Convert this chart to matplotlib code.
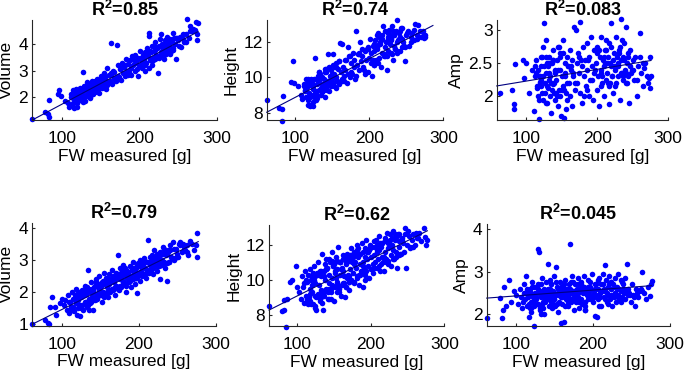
import matplotlib
matplotlib.use('Agg')
import matplotlib.pyplot as plt

plt.rcParams['font.family'] = ['Liberation Sans', 'DejaVu Sans']
plt.rcParams['mathtext.fontset'] = 'custom'
plt.rcParams['mathtext.rm'] = 'Liberation Sans'
plt.rcParams['mathtext.bf'] = 'Liberation Sans:bold'

# ---------------- data: top row (FW measured vs traits) ----------------
fw_top = [
    62, 79, 82, 83, 84, 95, 97, 99, 104, 108,
    110, 112, 113, 115, 116, 117, 118, 119, 120, 121,
    122, 123, 124, 125, 126, 127, 128, 129, 130, 131,
    132, 133, 134, 135, 136, 137, 138, 139, 140, 141,
    142, 143, 144, 145, 146, 147, 148, 149, 150, 151,
    152, 153, 154, 155, 156, 157, 158, 159, 160, 161,
    162, 163, 164, 165, 166, 167, 168, 170, 171, 172,
    173, 174, 175, 176, 178, 179, 180, 181, 183, 184,
    185, 186, 188, 189, 190, 191, 192, 194, 195, 196,
    198, 199, 200, 201, 203, 204, 205, 206, 207, 208,
    209, 210, 211, 212, 213, 214, 215, 216, 217, 218,
    219, 220, 221, 222, 223, 224, 225, 226, 227, 228,
    229, 230, 231, 232, 233, 234, 235, 236, 237, 238,
    239, 240, 241, 242, 243, 244, 245, 246, 248, 250,
    252, 254, 256, 258, 260, 262, 264, 266, 268, 270,
    272, 273, 274, 275, 276, 114, 118, 125, 128, 132,
    115, 120, 124, 130, 135, 140, 145, 150, 155, 137,
    205, 210, 215, 220, 225, 230, 235, 240, 212, 228,
    112, 117, 122, 127, 132, 137, 142, 147, 152, 157,
    119, 126, 133, 139, 146, 153, 159, 166, 174, 182,
    187, 193, 197, 202, 206, 211, 216, 221, 226, 231,
    234, 238, 242, 247, 251, 256, 261, 265, 118, 143,
    121, 129, 136, 141, 148, 156, 163, 169, 177, 186,
    199, 207, 214, 218, 224, 232, 237, 244, 249, 129,
]
volume_top = [
    1.15, 1.42, 1.35, 1.22, 1.88, 2.1, 2.26, 2.05, 1.83, 1.78,
    1.62, 2.0, 1.7, 1.95, 1.56, 2.15, 1.85, 2.3, 1.75, 2.05,
    2.2, 1.9, 2.35, 1.98, 2.1, 2.95, 1.8, 2.25, 2.02, 2.4,
    2.05, 2.3, 2.5, 2.15, 1.95, 2.42, 2.28, 2.6, 2.1, 2.35,
    2.55, 2.2, 2.45, 2.7, 2.3, 2.62, 2.15, 2.5, 2.4, 2.78,
    2.35, 2.65, 2.9, 2.48, 2.75, 2.3, 2.6, 3.1, 2.55, 2.82,
    2.62, 4.04, 2.85, 2.5, 3.0, 2.72, 2.95, 2.6, 3.98, 2.8,
    3.2, 2.75, 3.05, 2.65, 3.3, 2.9, 3.15, 2.8, 3.45, 3.0,
    3.25, 2.9, 3.4, 3.1, 2.85, 3.55, 3.2, 3.0, 3.6, 3.3,
    2.8, 3.5, 3.2, 3.75, 3.35, 3.1, 3.6, 3.45, 3.0, 3.7,
    3.3, 3.85, 3.55, 4.43, 4.33, 3.4, 3.7, 3.2, 3.95, 3.5,
    3.75, 3.45, 4.1, 3.6, 3.85, 2.93, 3.95, 3.55, 4.2, 3.7,
    3.6, 4.0, 3.85, 3.45, 4.15, 3.9, 3.7, 4.3, 3.8, 4.05,
    3.95, 4.2, 3.75, 4.1, 4.45, 3.85, 4.25, 4.0, 3.44, 4.15,
    4.3, 3.9, 4.2, 4.1, 4.4, 4.96, 4.25, 4.7, 4.5, 4.6,
    4.55, 4.85, 4.15, 4.4, 4.8, 1.75, 2.1, 1.9, 2.3, 2.55,
    2.25, 1.6, 2.05, 1.85, 2.2, 2.5, 2.3, 2.65, 2.45, 2.0,
    3.25, 3.65, 3.4, 3.9, 3.5, 3.75, 4.1, 3.65, 3.1, 4.4,
    2.1, 1.8, 2.25, 2.0, 2.4, 2.15, 2.55, 2.3, 2.7, 2.45,
    1.95, 2.3, 2.1, 2.5, 2.25, 2.75, 2.45, 2.95, 2.7, 3.2,
    2.95, 3.4, 3.05, 3.5, 3.25, 3.7, 3.35, 3.8, 3.55, 3.95,
    3.65, 4.1, 3.8, 4.25, 3.95, 4.4, 4.1, 4.5, 1.8, 2.6,
    2.2, 2.0, 2.45, 2.2, 2.6, 2.4, 2.9, 2.65, 3.1, 2.85,
    3.45, 3.2, 3.75, 3.4, 3.9, 3.6, 4.05, 3.8, 4.25, 2.4,
]
height_top = [
    8.7, 8.25, 8.2, 7.5, 8.95, 9.75, 10.95, 9.7, 9.5, 9.0,
    8.75, 9.6, 9.2, 8.9, 9.45, 8.45, 9.8, 9.1, 8.4, 9.55,
    9.0, 9.7, 8.6, 9.35, 9.9, 11.08, 9.2, 8.7, 9.6, 10.1,
    9.3, 9.85, 10.2, 9.0, 9.6, 10.0, 9.45, 9.9, 8.9, 9.7,
    10.3, 9.5, 9.8, 11.3, 9.2, 10.1, 9.6, 10.4, 9.9, 11.35,
    9.7, 10.2, 10.6, 9.4, 10.0, 9.8, 10.5, 10.9, 9.6, 11.93,
    10.3, 11.9, 9.9, 10.6, 10.1, 11.0, 10.4, 9.7, 11.7, 10.2,
    11.2, 10.0, 10.8, 10.3, 11.4, 10.6, 11.0, 9.9, 12.6, 10.7,
    11.3, 10.4, 12.0, 10.9, 11.6, 11.2, 10.6, 11.5, 10.2, 11.0,
    10.3, 11.7, 11.1, 12.2, 11.4, 10.05, 11.8, 11.5, 10.7, 12.1,
    11.0, 12.4, 11.6, 12.5, 12.3, 11.1, 11.9, 10.6, 12.2, 11.4,
    12.9, 11.2, 12.6, 11.7, 12.0, 10.4, 12.3, 11.5, 12.7, 11.9,
    11.4, 12.2, 12.9, 11.0, 12.4, 11.8, 11.6, 12.6, 13.25, 12.0,
    12.1, 12.5, 11.5, 12.3, 12.8, 11.7, 12.2, 12.0, 10.9, 12.4,
    12.6, 11.8, 12.3, 12.5, 12.1, 13.0, 12.4, 12.95, 12.6, 12.3,
    12.35, 12.6, 12.25, 12.4, 12.3, 9.3, 9.6, 8.4, 9.0, 10.3,
    9.9, 8.45, 9.5, 8.8, 9.4, 10.5, 9.8, 10.2, 10.8, 9.15,
    11.0, 11.7, 12.0, 11.3, 12.5, 12.1, 11.6, 12.2, 10.8, 12.4,
    9.5, 8.7, 9.9, 9.1, 10.3, 9.4, 10.5, 9.6, 10.7, 9.8,
    9.8, 8.9, 10.1, 9.3, 10.6, 9.5, 10.9, 9.8, 11.2, 10.1,
    11.4, 10.4, 11.6, 10.8, 11.9, 11.0, 12.1, 11.2, 12.2, 11.3,
    12.4, 11.5, 12.6, 11.8, 12.5, 12.0, 12.7, 12.2, 9.9, 9.3,
    8.9, 9.9, 9.2, 10.3, 9.5, 10.6, 9.8, 11.0, 10.2, 11.3,
    11.6, 10.7, 11.9, 12.4, 11.2, 12.6, 11.4, 12.8, 11.7, 9.1,
]
amp_top = [
    2.05, 2.1, 1.88, 1.8, 2.48, 2.55, 2.28, 2.5, 2.05, 2.4,
    1.78, 2.3, 2.55, 2.12, 2.0, 2.4, 1.65, 2.22, 2.6, 2.15,
    2.05, 2.75, 1.95, 3.1, 2.2, 2.85, 2.35, 1.9, 2.45, 2.12,
    2.6, 2.0, 2.3, 1.75, 2.5, 2.18, 2.7, 2.05, 2.38, 1.95,
    2.25, 2.55, 1.85, 2.4, 2.1, 2.65, 2.0, 1.7, 2.3, 2.85,
    2.15, 1.67, 2.5, 2.35, 2.05, 2.6, 1.95, 2.45, 2.2, 2.7,
    2.0, 2.4, 2.55, 1.85, 2.3, 3.05, 2.1, 3.0, 2.5, 2.2,
    2.65, 2.35, 3.12, 2.05, 2.45, 1.9, 2.75, 2.3, 2.55, 2.15,
    2.8, 2.4, 2.0, 2.6, 2.25, 2.9, 2.45, 1.95, 2.7, 2.35,
    2.5, 2.1, 2.75, 2.3, 1.85, 2.6, 2.4, 2.9, 2.2, 2.55,
    2.0, 2.45, 2.7, 2.25, 2.85, 2.35, 2.6, 2.15, 1.88, 2.5,
    2.75, 3.1, 2.3, 2.55, 2.05, 2.65, 2.4, 2.9, 2.2, 2.6,
    2.45, 2.3, 2.7, 1.95, 2.55, 3.17, 2.35, 2.6, 2.25, 2.8,
    2.4, 3.05, 2.2, 2.5, 2.3, 2.65, 1.9, 2.45, 2.35, 2.55,
    2.25, 2.6, 2.0, 2.45, 2.95, 2.35, 2.15, 2.43, 2.5, 2.3,
    2.2, 2.28, 2.12, 2.6, 2.3, 2.35, 1.95, 2.45, 2.6, 2.25,
    2.15, 2.45, 2.3, 2.5, 2.2, 2.4, 2.75, 2.1, 2.3, 2.55,
    2.35, 2.6, 2.2, 2.45, 2.15, 2.5, 2.85, 2.35, 2.7, 2.45,
    2.45, 2.15, 2.6, 1.9, 2.35, 2.55, 2.05, 2.4, 2.65, 2.2,
    2.3, 2.05, 2.5, 2.2, 2.75, 2.1, 2.45, 2.35, 2.6, 2.0,
    2.55, 2.25, 2.4, 2.7, 2.15, 2.5, 2.8, 2.3, 2.45, 2.65,
    2.35, 2.55, 2.2, 2.7, 2.4, 2.25, 2.6, 2.5, 2.3, 2.0,
    2.25, 2.5, 2.1, 2.35, 2.6, 1.8, 2.45, 2.2, 2.55, 2.1,
    2.65, 2.3, 2.5, 2.2, 2.45, 2.75, 2.3, 2.6, 2.4, 2.15,
]

# ---------------- data: bottom row ----------------
fw_bot = [
    62, 79, 82, 83, 85, 87, 91, 93, 98, 100,
    103, 105, 107, 108, 110, 111, 112, 113, 114, 115,
    116, 117, 118, 119, 120, 121, 122, 123, 124, 125,
    126, 127, 128, 129, 130, 131, 132, 133, 134, 135,
    136, 137, 138, 139, 140, 141, 142, 143, 144, 145,
    146, 147, 148, 149, 150, 151, 152, 153, 154, 155,
    156, 157, 158, 159, 160, 161, 162, 163, 164, 165,
    166, 167, 168, 169, 170, 171, 172, 173, 174, 175,
    176, 177, 178, 179, 180, 181, 182, 183, 184, 185,
    186, 187, 188, 189, 190, 191, 192, 193, 194, 195,
    196, 197, 198, 199, 200, 201, 202, 203, 204, 205,
    206, 207, 208, 209, 210, 211, 212, 213, 214, 215,
    216, 217, 218, 219, 220, 221, 222, 223, 224, 225,
    226, 227, 228, 229, 230, 231, 232, 233, 234, 235,
    236, 237, 238, 239, 240, 242, 244, 246, 248, 250,
    252, 254, 256, 258, 260, 263, 266, 269, 272, 276,
    275, 274, 120, 125, 130, 135, 140, 145, 150, 155,
    118, 123, 128, 133, 138, 143, 148, 153, 158, 163,
    160, 165, 170, 175, 180, 185, 190, 195, 132, 147,
    168, 172, 178, 182, 188, 193, 198, 203, 208, 213,
    218, 223, 228, 233, 238, 243, 122, 137, 142, 152,
    109, 114, 119, 124, 129, 134, 139, 144, 149, 154,
    159, 164, 169, 174, 179, 184, 189, 194, 199, 204,
    209, 214, 219, 224, 229, 234, 239, 245, 251, 257,
    112, 117, 121, 126, 131, 136, 141, 146, 151, 156,
    161, 166, 171, 176, 181, 186, 191, 196, 201, 206,
    211, 216, 221, 226, 231, 236, 241, 247, 253, 262,
    127, 134, 139, 144, 149, 157, 162, 167, 173, 177,
    115, 124, 131, 138, 146, 154, 171, 183, 192, 264,
]
volume_bot = [
    1.0, 1.13, 1.05, 1.0, 1.54, 1.86, 1.55, 1.3, 1.65, 1.8,
    1.6, 1.75, 1.45, 1.9, 1.35, 1.7, 1.55, 2.0, 1.5, 1.8,
    1.4, 1.9, 1.65, 2.1, 1.3, 1.75, 1.55, 2.0, 1.25, 1.85,
    1.6, 2.05, 1.45, 1.9, 2.2, 1.7, 1.95, 1.55, 2.69, 1.8,
    2.1, 1.65, 2.3, 1.85, 2.0, 1.45, 2.15, 1.75, 2.4, 1.95,
    1.8, 2.25, 2.05, 2.5, 1.9, 2.2, 1.7, 2.35, 2.0, 2.6,
    2.3, 1.95, 2.45, 2.15, 1.85, 2.55, 2.25, 2.0, 2.4, 2.7,
    2.1, 2.5, 2.3, 1.9, 2.6, 2.2, 2.45, 3.16, 2.05, 2.75,
    2.4, 2.15, 2.65, 2.35, 2.85, 2.25, 2.55, 2.0, 2.7, 2.45,
    2.6, 2.3, 2.8, 2.5, 2.15, 2.7, 2.4, 2.95, 2.55, 2.25,
    2.75, 2.45, 1.97, 2.9, 2.6, 2.35, 3.0, 2.65, 2.5, 2.8,
    2.55, 3.05, 2.75, 2.45, 2.95, 2.7, 3.62, 2.6, 3.1, 2.85,
    2.7, 3.15, 2.9, 2.55, 3.3, 2.8, 3.05, 2.65, 3.2, 2.95,
    3.1, 2.4, 3.25, 2.85, 3.0, 3.4, 2.9, 3.35, 2.75, 3.15,
    3.2, 2.33, 3.3, 2.95, 3.45, 3.1, 3.55, 3.0, 3.35, 3.2,
    3.5, 3.55, 3.25, 3.4, 3.3, 3.45, 3.6, 3.5, 3.3, 3.85,
    3.1, 3.45, 1.95, 1.5, 1.7, 1.45, 2.05, 2.3, 2.15, 1.85,
    1.8, 1.6, 2.0, 2.15, 1.7, 2.2, 1.9, 2.25, 2.35, 2.05,
    2.4, 2.1, 2.2, 2.55, 2.3, 2.65, 2.45, 2.7, 2.05, 2.15,
    2.35, 2.55, 2.5, 2.75, 2.4, 2.65, 2.85, 2.55, 2.95, 2.7,
    3.0, 2.8, 3.15, 2.95, 3.25, 3.05, 1.85, 2.0, 1.8, 2.3,
    1.7, 1.45, 1.85, 1.6, 1.95, 1.7, 2.1, 1.8, 2.25, 1.95,
    2.0, 2.35, 2.15, 2.5, 2.25, 2.6, 2.35, 2.75, 2.5, 2.9,
    2.6, 2.95, 2.75, 3.1, 2.85, 3.25, 2.95, 3.35, 3.1, 3.5,
    1.45, 1.75, 1.5, 1.95, 1.65, 2.05, 1.75, 2.2, 1.9, 2.3,
    2.35, 2.05, 2.45, 2.2, 2.6, 2.3, 2.7, 2.45, 2.8, 2.55,
    2.95, 2.65, 3.05, 2.8, 3.2, 2.9, 3.3, 3.05, 3.45, 3.25,
    1.95, 1.6, 2.1, 1.8, 2.2, 1.95, 2.05, 2.4, 2.1, 2.6,
    1.55, 1.95, 1.6, 2.05, 1.85, 2.25, 2.5, 2.2, 2.75, 3.15,
]
height_bot = [
    8.5, 8.2, 8.27, 8.85, 7.33, 8.9, 9.9, 10.0, 10.79, 9.6,
    9.3, 8.9, 10.2, 9.6, 8.7, 10.5, 9.1, 9.9, 8.8, 10.3,
    9.0, 10.6, 9.5, 8.6, 10.1, 9.3, 8.6, 10.8, 8.5, 9.8,
    8.3, 10.4, 9.2, 11.0, 9.7, 8.9, 10.2, 9.4, 11.5, 8.3,
    10.5, 9.1, 10.0, 11.2, 9.5, 10.7, 8.9, 10.3, 9.8, 11.0,
    9.3, 11.6, 10.1, 10.8, 8.8, 10.4, 9.6, 11.3, 9.9, 10.6,
    11.9, 9.5, 10.3, 11.0, 9.1, 10.7, 9.8, 11.4, 10.2, 9.0,
    10.9, 9.6, 11.5, 10.3, 11.1, 9.9, 10.6, 11.8, 10.0, 11.2,
    10.4, 11.6, 9.8, 11.0, 10.7, 12.0, 10.2, 11.3, 9.7, 10.9,
    11.5, 10.5, 12.1, 9.6, 11.0, 10.6, 11.8, 10.3, 12.3, 11.2,
    10.8, 11.6, 10.1, 12.0, 11.3, 10.6, 11.9, 10.9, 12.2, 11.4,
    11.0, 12.3, 10.7, 11.7, 11.2, 11.7, 12.5, 10.5, 11.9, 11.3,
    12.1, 11.0, 10.5, 12.4, 11.6, 11.2, 12.7, 11.8, 10.9, 12.2,
    12.6, 11.4, 10.8, 12.0, 11.7, 12.8, 11.2, 12.3, 11.6, 12.5,
    10.7, 12.6, 11.9, 12.2, 11.5, 12.4, 12.1, 12.95, 10.7, 12.0,
    12.5, 11.9, 12.3, 12.6, 12.0, 12.4, 12.7, 12.2, 12.95, 12.3,
    12.0, 12.45, 9.7, 8.4, 10.3, 9.2, 10.6, 9.5, 10.9, 9.3,
    9.2, 10.0, 9.0, 10.5, 9.4, 11.2, 9.7, 10.1, 11.0, 10.5,
    10.6, 11.3, 10.2, 11.0, 11.5, 10.3, 10.8, 11.6, 9.0, 11.1,
    10.1, 11.4, 10.9, 11.7, 10.5, 11.3, 11.7, 10.4, 11.6, 12.1,
    11.3, 12.1, 11.9, 12.6, 11.4, 12.3, 10.4, 10.2, 9.3, 10.5,
    9.8, 8.9, 10.0, 9.1, 10.4, 9.3, 10.6, 9.5, 10.8, 9.7,
    11.0, 9.8, 11.2, 10.0, 11.4, 10.3, 11.6, 10.5, 11.8, 10.7,
    12.0, 10.9, 12.2, 11.1, 12.4, 11.3, 12.6, 11.6, 12.8, 11.9,
    10.0, 8.8, 10.3, 9.0, 10.5, 9.3, 10.7, 9.5, 11.0, 9.7,
    9.7, 11.1, 9.9, 11.3, 10.1, 11.5, 10.4, 11.7, 10.6, 11.9,
    10.8, 12.1, 11.0, 12.3, 11.2, 12.5, 11.5, 12.6, 11.8, 12.7,
    10.3, 8.7, 10.6, 8.9, 11.0, 9.3, 11.2, 9.6, 11.4, 9.9,
    8.6, 10.2, 8.8, 10.9, 8.9, 11.1, 9.4, 11.8, 10.0, 12.4,
]
amp_bot = [
    1.91, 2.38, 1.91, 2.1, 2.65, 2.2, 2.8, 2.3, 2.55, 2.45,
    2.25, 2.6, 2.4, 2.15, 2.5, 2.7, 2.35, 2.9, 2.2, 2.55,
    2.45, 1.95, 2.6, 2.3, 2.05, 2.75, 2.4, 2.2, 1.73, 2.5,
    2.35, 2.65, 3.52, 2.25, 2.5, 2.1, 2.7, 2.4, 2.85, 2.3,
    2.55, 2.0, 2.45, 2.75, 2.35, 2.6, 3.18, 2.2, 2.5, 2.4,
    2.7, 2.15, 2.55, 2.35, 2.9, 2.45, 3.1, 2.25, 2.6, 2.5,
    2.3, 2.75, 1.8, 2.55, 2.4, 2.65, 1.82, 2.5, 2.8, 2.35,
    2.6, 2.45, 2.2, 2.7, 3.65, 2.5, 2.35, 2.9, 2.55, 2.1,
    2.45, 2.7, 2.3, 2.6, 2.85, 2.4, 2.15, 2.55, 2.75, 2.35,
    2.65, 2.5, 2.9, 2.2, 2.1, 2.6, 2.45, 2.8, 2.35, 2.55,
    2.75, 2.4, 2.6, 2.95, 2.3, 2.55, 2.7, 1.97, 2.45, 1.95,
    2.6, 2.35, 2.85, 2.5, 2.7, 2.2, 2.55, 2.95, 2.4, 3.14,
    2.55, 2.8, 2.3, 2.65, 2.45, 2.9, 2.35, 2.6, 2.75, 2.2,
    2.7, 2.4, 2.85, 2.5, 2.3, 2.65, 2.95, 2.45, 2.6, 2.35,
    2.55, 2.8, 2.4, 2.7, 2.5, 2.35, 3.18, 2.6, 2.45, 2.3,
    2.45, 2.2, 2.6, 2.4, 2.55, 2.98, 2.5, 2.35, 2.65, 2.78,
    2.7, 2.43, 2.5, 2.35, 3.46, 2.15, 2.55, 2.3, 2.45, 2.05,
    2.15, 2.4, 2.6, 2.0, 2.35, 2.5, 2.25, 2.65, 2.4, 2.55,
    2.25, 2.45, 2.6, 2.35, 2.5, 2.7, 2.1, 2.4, 2.45, 2.3,
    2.4, 2.75, 2.55, 2.3, 2.65, 2.5, 2.35, 2.6, 2.2, 2.7,
    2.5, 2.45, 2.65, 2.4, 2.75, 2.55, 2.3, 2.6, 2.4, 2.75,
    2.3, 2.6, 2.15, 2.45, 2.7, 2.25, 2.55, 2.8, 2.35, 2.5,
    2.65, 2.2, 2.5, 2.75, 2.4, 2.55, 2.3, 2.65, 2.45, 2.7,
    2.4, 2.6, 2.25, 2.75, 2.5, 2.35, 2.6, 2.45, 2.7, 2.5,
    2.5, 2.25, 2.65, 2.4, 2.15, 2.55, 2.35, 2.7, 2.2, 2.5,
    2.45, 2.6, 2.3, 2.55, 2.7, 2.25, 2.5, 2.65, 2.4, 2.8,
    2.55, 2.35, 2.7, 2.45, 2.6, 2.3, 2.85, 2.5, 2.4, 2.6,
    2.25, 2.55, 2.4, 2.6, 2.2, 2.45, 2.7, 2.3, 2.5, 2.35,
    2.4, 2.65, 2.55, 2.3, 2.5, 2.45, 2.35, 2.6, 2.5, 2.55,
]

# regression line end points
fit_x = [[62, 276], [62, 286], [58, 276], [62, 277], [62, 277], [62, 276]]
fit_y = [[1.12, 4.49], [8.02, 12.94], [2.155, 2.54], [1.0, 3.57], [8.27, 12.8], [2.38, 2.67]]

r2_values = ['0.85', '0.74', '0.083', '0.79', '0.62', '0.045']
y_labels = ['Volume', 'Height', 'Amp', 'Volume', 'Height', 'Amp']
x_label = 'FW measured [g]'
x_ticks = [100, 200, 300]
y_ticks = [[2, 3, 4], [8, 10, 12], [2, 2.5, 3], [1, 2, 3, 4], [8, 10, 12], [2, 3, 4]]
y_tick_labels = [['2', '3', '4'], ['8', '10', '12'], ['2', '2.5', '3'],
                 ['1', '2', '3', '4'], ['8', '10', '12'], ['2', '3', '4']]
x_lims = [(62, 300), (62, 300), (58, 300), (62, 300), (62, 300), (62, 300)]
y_lims = [(1.12, 4.95), (7.58, 13.28), (1.64, 3.16), (0.96, 4.14), (7.36, 13.13), (1.73, 4.1)]

series_x = [fw_top, fw_top, fw_top, fw_bot, fw_bot, fw_bot]
series_y = [volume_top, height_top, amp_top, volume_bot, height_bot, amp_bot]

# ---------------- layout (pixel boxes: left, top, right, bottom) ----------------
W, H = 685, 375
boxes = [(32.3, 19.5, 216.7, 120), (266.7, 19.5, 443.3, 120), (496.7, 19.5, 668, 120),
         (32.3, 223.3, 216, 325.5), (269, 225, 444.3, 326), (486.7, 224.3, 670, 326)]

fig = plt.figure(figsize=(W / 100, H / 100), dpi=100)
for i in range(6):
    l, t, r, b = boxes[i]
    ax = fig.add_axes([l / W, 1 - b / H, (r - l) / W, (b - t) / H])
    ax.plot(series_x[i], series_y[i], 'o', color='#0000ff', ms=4.0, mec='none', clip_on=False)
    ax.plot(fit_x[i], fit_y[i], '-', color='#000080', lw=0.8, clip_on=False)
    ax.set_xlim(*x_lims[i])
    ax.set_ylim(*y_lims[i])
    ax.set_xticks(x_ticks)
    ax.set_yticks(y_ticks[i])
    ax.set_yticklabels(y_tick_labels[i])
    for s in ['top', 'right']:
        ax.spines[s].set_visible(False)
    for s in ['left', 'bottom']:
        ax.spines[s].set_color('#262626')
        ax.spines[s].set_linewidth(0.8)
    ax.tick_params(axis='both', direction='in', length=2.5, width=0.8, color='#262626',
                   labelsize=12.5, labelcolor='black')
    ax.tick_params(axis='x', pad=8)
    ax.tick_params(axis='y', pad=3)
    ax.set_xlabel(x_label, fontsize=12.5, labelpad=2)
    ax.set_ylabel(y_labels[i], fontsize=12.5, labelpad=3)
    ax.set_title(r'$\mathbf{R^2}$=' + r2_values[i], fontsize=13, fontweight='bold', pad=0.5)

fig.savefig('out.png', dpi=100)
